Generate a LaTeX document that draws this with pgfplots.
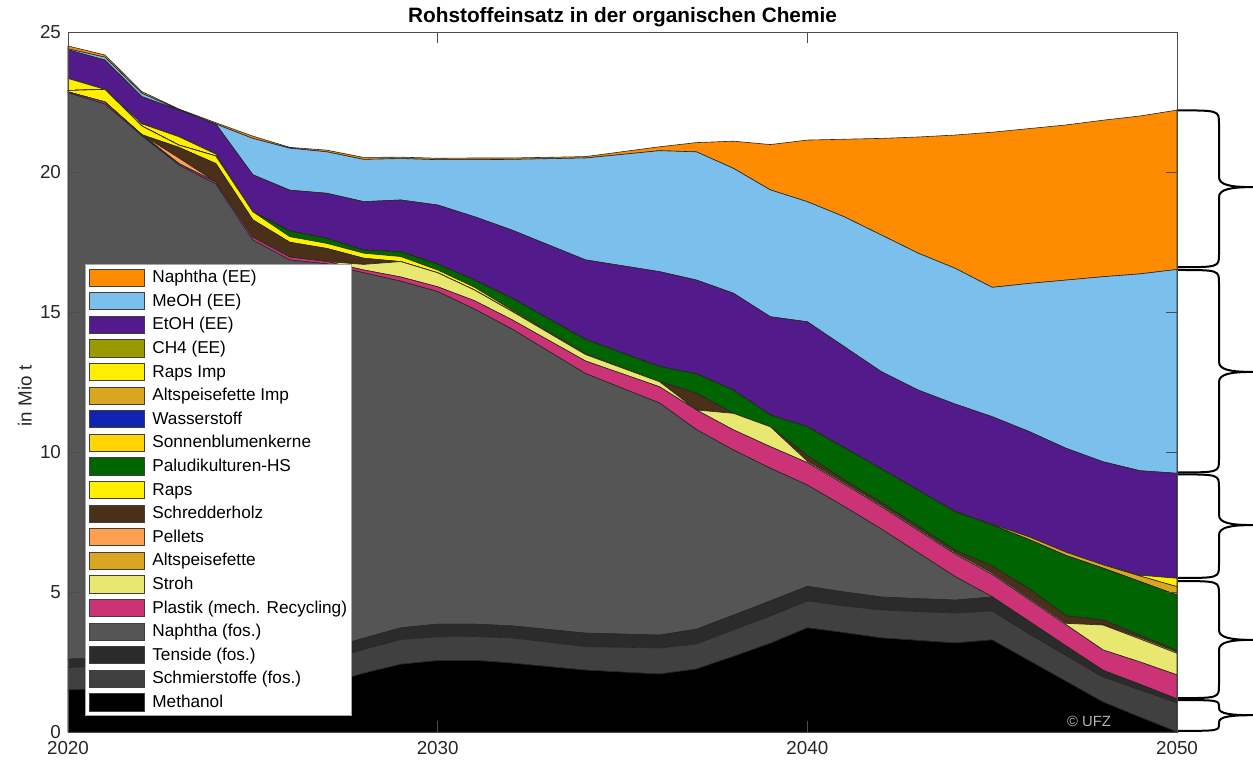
\documentclass[border=0pt]{standalone}
\usepackage{pgfplots}
\pgfplotsset{compat=1.18}
\usepackage{pgfplotstable}
\usepackage{fontspec}
\setmainfont{Liberation Sans}

\definecolor{cNapE}{RGB}{255,140,0}
\definecolor{cMeOH}{RGB}{123,191,236}
\definecolor{cEtOH}{RGB}{82,26,138}
\definecolor{cCH4}{RGB}{153,153,0}
\definecolor{cRapI}{RGB}{255,238,0}
\definecolor{cAltI}{RGB}{218,165,32}
\definecolor{cWass}{RGB}{16,36,176}
\definecolor{cSonn}{RGB}{255,212,0}
\definecolor{cPalu}{RGB}{0,100,0}
\definecolor{cRaps}{RGB}{255,240,0}
\definecolor{cSchr}{RGB}{75,48,25}
\definecolor{cPell}{RGB}{255,160,80}
\definecolor{cAlts}{RGB}{218,165,32}
\definecolor{cStro}{RGB}{232,232,112}
\definecolor{cPlas}{RGB}{204,51,119}
\definecolor{cNapF}{RGB}{85,85,85}
\definecolor{cTens}{RGB}{43,43,43}
\definecolor{cSchm}{RGB}{64,64,64}
\definecolor{cMeth}{RGB}{0,0,0}

% #1 top value, #2 tip value, #3 bottom value, #4 end curve height, #5 tip curve height
\newcommand{\mybrace}[5]{%
  \draw[line width=1pt, line join=round, line cap=round]
    (axis cs:2050,#1)
    .. controls ([xshift=21pt]axis cs:2050,#1) .. ([xshift=21pt,yshift=-#4]axis cs:2050,#1)
    -- ([xshift=21pt,yshift=#5]axis cs:2050,#2)
    .. controls ([xshift=21pt,yshift=0.2*#5]axis cs:2050,#2) and ([xshift=27pt]axis cs:2050,#2) .. ([xshift=38pt]axis cs:2050,#2)
    .. controls ([xshift=27pt]axis cs:2050,#2) and ([xshift=21pt,yshift=-0.2*#5]axis cs:2050,#2) .. ([xshift=21pt,yshift=-#5]axis cs:2050,#2)
    -- ([xshift=21pt,yshift=#4]axis cs:2050,#3)
    .. controls ([xshift=21pt]axis cs:2050,#3) .. (axis cs:2050,#3);%
}

\pgfplotstableread{
year Meth Schm Tens NapF Plas Stro Alts Pell Schr Raps Palu Sonn Wass AltI RapI CH4 EtOH MeOH NapE
2020 1.50 0.80 0.30 20.23 0.03 0    0    0    0    0.05 0    0 0 0    0.43 0 1.02 0.04 0.10
2021 1.55 0.80 0.30 19.78 0.07 0    0    0    0    0.45 0    0 0 0    0    0 1.05 0.10 0.08
2022 1.60 0.80 0.32 18.57 0.04 0    0    0    0    0.31 0    0 0 0    0.08 0 0.97 0.12 0.06
2023 1.60 0.82 0.33 17.50 0.05 0    0    0.20 0.38 0.08 0    0 0 0    0.30 0 0.95 0.01 0.03
2024 1.62 0.83 0.35 16.77 0.07 0    0    0    0.66 0.27 0    0 0 0    0.07 0 1.07 0    0.05
2025 1.65 0.83 0.37 14.72 0.10 0    0    0    0.62 0.29 0    0 0 0    0    0 1.32 1.30 0.08
2026 1.68 0.82 0.38 13.98 0.10 0    0    0    0.53 0.20 0.20 0 0 0    0    0 1.46 1.50 0.03
2027 1.72 0.85 0.40 13.75 0.08 0    0    0    0.47 0.18 0.18 0 0 0    0    0 1.61 1.48 0.06
2028 2.10 0.85 0.40 13.05 0.10 0.20 0    0    0.22 0.18 0.11 0 0 0    0    0 1.73 1.51 0.07
2029 2.42 0.88 0.42 12.38 0.15 0.55 0    0    0    0.18 0.17 0 0 0    0    0 1.85 1.48 0.05
2030 2.55 0.85 0.45 11.88 0.17 0.50 0    0    0    0.10 0.21 0 0 0    0    0 2.11 1.62 0.05
2031 2.56 0.85 0.44 11.25 0.30 0.38 0    0    0    0.10 0.26 0 0 0    0    0 2.26 2.04 0.06
2032 2.46 0.90 0.43 10.61 0.33 0.30 0    0    0    0.05 0.42 0 0 0    0    0 2.43 2.52 0.05
2034 2.21 0.84 0.48 9.27  0.45 0.23 0    0    0    0.03 0.51 0 0 0    0    0 2.84 3.64 0.05
2036 2.07 0.93 0.46 8.29  0.58 0.18 0    0    0    0    0.54 0 0 0    0    0 3.39 4.32 0.14
2037 2.25 0.89 0.53 7.13  0.70 0    0    0    0.60 0    0.69 0 0 0    0    0 3.35 4.58 0.33
2038 2.70 0.95 0.52 5.90  0.72 0.59 0    0    0    0    0.83 0 0 0    0    0 3.46 4.46 0.97
2039 3.17 0.97 0.54 4.74  0.77 0.71 0    0    0    0    0.42 0 0 0    0    0 3.51 4.53 1.62
2040 3.72 0.96 0.52 3.62  0.80 0.05 0    0    0.20 0    1.03 0 0 0    0    0 3.75 4.29 2.20
2041 3.55 0.95 0.50 3.05  0.80 0.05 0    0    0.10 0    1.15 0 0 0    0    0 3.61 4.64 2.77
2042 3.36 1.00 0.46 2.43  0.80 0.05 0    0    0.10 0    1.20 0 0 0    0    0 3.47 4.88 3.45
2043 3.27 1.03 0.46 1.64  0.80 0.05 0    0    0.10 0    1.28 0 0 0    0    0 3.58 4.89 4.15
2044 3.18 1.07 0.46 0.84  0.80 0.05 0    0    0.10 0    1.37 0 0 0    0    0 3.84 4.85 4.76
2045 3.29 1.03 0.50 0.01  0.80 0.05 0    0    0.25 0    1.46 0 0 0.03 0    0 3.84 4.62 5.54
2046 2.55 0.95 0.45 0     0.78 0.05 0    0    0.34 0    1.75 0 0 0.10 0    0 3.76 5.29 5.53
2047 1.81 0.92 0.34 0     0.76 0.05 0    0    0.27 0    2.15 0 0 0.12 0    0 3.71 6.01 5.54
2048 1.07 0.89 0.24 0     0.73 0.89 0.03 0    0.15 0    1.85 0 0 0.12 0    0 3.68 6.61 5.59
2049 0.53 0.97 0.20 0     0.80 0.82 0.05 0    0.08 0    1.92 0 0 0.20 0.03 0 3.73 7.03 5.64
2050 0.00 1.04 0.14 0     0.86 0.77 0.05 0    0.05 0    1.98 0 0 0.30 0.30 0 3.75 7.28 5.69
}\data

\begin{document}
\begin{tikzpicture}
\begin{axis}[
  name=ax,
  scale only axis, width=554.5pt, height=350pt,
  xmin=2020, xmax=2050, ymin=0, ymax=25,
  xtick={2020,2030,2040,2050}, ytick={0,5,...,25},
  /pgf/number format/assume math mode=true,
  xticklabel style={/pgf/number format/1000 sep={}},
  tick label style={font=\fontsize{9.4}{11}\selectfont, text=black!85},
  xticklabel style={yshift=-1pt},
  tick align=inside, tick pos=both, major tick length=5.5pt,
  tick style={black!70, line width=0.4pt},
  axis line style={black!70, line width=0.4pt},
  axis on top, clip=false,
  stack plots=y, no markers,
  every axis plot/.append style={draw=black!85, line width=0.3pt},
  title={Rohstoffeinsatz in der organischen Chemie},
  title style={at={(axis description cs:0.5,1)}, anchor=center, yshift=1.5pt, font=\fontsize{10.4}{12}\bfseries\selectfont},
  ylabel={in Mio t},
  ylabel style={at={(axis description cs:-0.0388,0.48)}, anchor=center, font=\fontsize{9.4}{11}\selectfont, text=black!85},
  reverse legend, legend cell align=left,
  legend image code/.code={\draw[#1,draw=black!75,line width=0.5pt] (0pt,-4.3pt) rectangle (27.5pt,4.3pt);},
  legend style={at={(0.0153,0.0229)}, anchor=south west, draw=gray!70, fill=white,
    font=\fontsize{8.6}{10}\selectfont, inner sep=2pt, row sep=2.7pt,
    nodes={inner sep=0pt, text height=7pt, text depth=2pt},
    /tikz/every odd column/.append style={column sep=3.5pt}},
]
\addplot[fill=cMeth] table[x=year,y=Meth]{\data} \closedcycle;
\addplot[fill=cSchm] table[x=year,y=Schm]{\data} \closedcycle;
\addplot[fill=cTens] table[x=year,y=Tens]{\data} \closedcycle;
\addplot[fill=cNapF] table[x=year,y=NapF]{\data} \closedcycle;
\addplot[fill=cPlas] table[x=year,y=Plas]{\data} \closedcycle;
\addplot[fill=cStro] table[x=year,y=Stro]{\data} \closedcycle;
\addplot[fill=cAlts] table[x=year,y=Alts]{\data} \closedcycle;
\addplot[fill=cPell] table[x=year,y=Pell]{\data} \closedcycle;
\addplot[fill=cSchr] table[x=year,y=Schr]{\data} \closedcycle;
\addplot[fill=cRaps] table[x=year,y=Raps]{\data} \closedcycle;
\addplot[fill=cPalu] table[x=year,y=Palu]{\data} \closedcycle;
\addplot[fill=cSonn] table[x=year,y=Sonn]{\data} \closedcycle;
\addplot[fill=cWass] table[x=year,y=Wass]{\data} \closedcycle;
\addplot[fill=cAltI] table[x=year,y=AltI]{\data} \closedcycle;
\addplot[fill=cRapI] table[x=year,y=RapI]{\data} \closedcycle;
\addplot[fill=cCH4] table[x=year,y=CH4]{\data} \closedcycle;
\addplot[fill=cEtOH] table[x=year,y=EtOH]{\data} \closedcycle;
\addplot[fill=cMeOH] table[x=year,y=MeOH]{\data} \closedcycle;
\addplot[fill=cNapE] table[x=year,y=NapE]{\data} \closedcycle;
\legend{Methanol, Schmierstoffe (fos.), Tenside (fos.), Naphtha (fos.), Plastik (mech. Recycling), Stroh, Altspeisefette, Pellets, Schredderholz, Raps, Paludikulturen-HS, Sonnenblumenkerne, Wasserstoff, Altspeisefette Imp, Raps Imp, CH4 (EE), EtOH (EE), MeOH (EE), Naphtha (EE)}
\mybrace{22.2}{19.46}{16.6}{6.5pt}{5pt}
\mybrace{16.5}{12.86}{9.27}{6.5pt}{5pt}
\mybrace{9.2}{7.39}{5.5}{6.5pt}{5pt}
\mybrace{5.39}{3.29}{1.21}{6.5pt}{5pt}
\mybrace{1.14}{0.6}{0.04}{3.5pt}{3.5pt}
\end{axis}
\node[text=white!70!black, font=\fontsize{7.4}{8}\selectfont, inner sep=0pt] at ([xshift=-44pt,yshift=5.5pt]ax.south east) {© UFZ};
\pgfresetboundingbox
\path ([xshift=-34pt,yshift=-14pt]ax.south west) rectangle ([xshift=38pt,yshift=16pt]ax.north east);
\end{tikzpicture}
\end{document}
